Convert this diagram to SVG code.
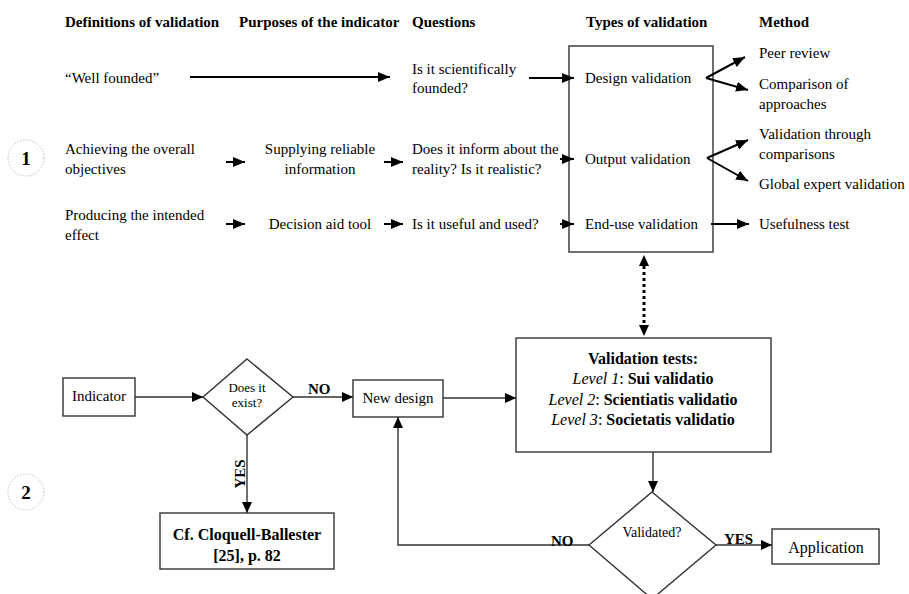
<svg xmlns="http://www.w3.org/2000/svg" width="909" height="594" viewBox="0 0 909 594">
<defs>
<marker id="ah" markerUnits="userSpaceOnUse" markerWidth="14" markerHeight="12" refX="12" refY="5" orient="auto">
<path d="M0,0 L12,5 L0,10 Z" fill="#000"/>
</marker>
<marker id="ah2" markerUnits="userSpaceOnUse" markerWidth="14" markerHeight="12" refX="11" refY="5" orient="auto">
<path d="M0,0 L11,5 L0,10 Z" fill="#000"/>
</marker>
<marker id="ahs" markerUnits="userSpaceOnUse" markerWidth="14" markerHeight="14" refX="0" refY="5" orient="auto-start-reverse">
<path d="M0,0 L11,5 L0,10 Z" fill="#000"/>
</marker>
</defs>
<style>
text{font-family:"Liberation Serif","Times New Roman",serif;fill:#000}
.h{font-size:15px;font-weight:bold}
.t{font-size:15px}
.c{text-anchor:middle}
.b{font-weight:bold}
.box{fill:#fff;stroke:#333;stroke-width:1.4}
.ar{stroke:#000;stroke-width:2;fill:none;marker-end:url(#ah)}
.fl{stroke:#333;stroke-width:1.4;fill:none}
.fa{stroke:#333;stroke-width:1.4;fill:none;marker-end:url(#ah2)}
.circ{fill:#fff;stroke:#bbb;stroke-width:1;stroke-dasharray:1.5 1.5}
</style>

<g id="headers">
<text class="h" x="65" y="27">Definitions of validation</text>
<text class="h" x="239" y="27">Purposes of the indicator</text>
<text class="h" x="412" y="27">Questions</text>
<text class="h" x="586" y="27">Types of validation</text>
<text class="h" x="759" y="27">Method</text>
</g>

<g id="types-box"><rect class="box" x="569" y="46" width="144" height="206" stroke="#555"/></g>

<g id="circle1"><circle class="circ" cx="26" cy="158" r="18"/><text x="26" y="165" class="c b" font-size="19">1</text></g>
<g id="circle2"><circle class="circ" cx="26" cy="492" r="18"/><text x="26" y="499" class="c b" font-size="19">2</text></g>

<g id="def1"><text class="t" x="65" y="83">“Well founded”</text></g>
<g id="q1"><text class="t" x="412" y="74">Is it scientifically</text><text class="t" x="412" y="93">founded?</text></g>
<g id="type1"><text class="t" x="585" y="83">Design validation</text></g>
<g id="m1a"><text class="t" x="759" y="58">Peer review</text></g>
<g id="m1b"><text class="t" x="759" y="89">Comparison of</text><text class="t" x="759" y="109">approaches</text></g>

<g id="def2"><text class="t" x="65" y="154">Achieving the overall</text><text class="t" x="65" y="174">objectives</text></g>
<g id="p2"><text class="t c" x="320" y="154">Supplying reliable</text><text class="t c" x="320" y="174">information</text></g>
<g id="q2"><text class="t" x="412" y="154">Does it inform about the</text><text class="t" x="412" y="174">reality? Is it realistic?</text></g>
<g id="type2"><text class="t" x="585" y="164">Output validation</text></g>
<g id="m2a"><text class="t" x="759" y="139">Validation through</text><text class="t" x="759" y="159">comparisons</text></g>
<g id="m2b"><text class="t" x="759" y="189">Global expert validation</text></g>

<g id="def3"><text class="t" x="65" y="220">Producing the intended</text><text class="t" x="65" y="240">effect</text></g>
<g id="p3"><text class="t c" x="320" y="229">Decision aid tool</text></g>
<g id="q3"><text class="t" x="412" y="229">Is it useful and used?</text></g>
<g id="type3"><text class="t" x="585" y="229">End-use validation</text></g>
<g id="m3"><text class="t" x="759" y="229">Usefulness test</text></g>

<g id="indicator"><rect class="box" x="63" y="378" width="72" height="38"/><text x="99" y="401" class="c" font-size="15">Indicator</text></g>
<g id="exist"><path class="box" d="M247,359 L293,397 L247,435 L203,397 Z"/><text x="247" y="392" class="c" font-size="13">Does it</text><text x="247" y="407" class="c" font-size="13">exist?</text></g>
<g id="newdesign"><rect class="box" x="353" y="380" width="90" height="37"/><text x="398" y="403" class="c" font-size="15">New design</text></g>
<g id="cf"><rect class="box" x="160" y="513" width="174" height="56"/><text x="247" y="540" class="c b" font-size="16">Cf. Cloquell-Ballester</text><text x="247" y="561" class="c b" font-size="16">[25], p. 82</text></g>
<g id="tests"><rect class="box" x="516" y="338" width="255" height="114"/>
<text x="643" y="364" class="c b" font-size="16">Validation tests:</text>
<text x="643" y="384" class="c" font-size="16"><tspan font-style="italic">Level 1</tspan>: <tspan font-weight="bold">Sui validatio</tspan></text>
<text x="643" y="405" class="c" font-size="16"><tspan font-style="italic">Level 2</tspan>: <tspan font-weight="bold">Scientiatis validatio</tspan></text>
<text x="643" y="425" class="c" font-size="16"><tspan font-style="italic">Level 3</tspan>: <tspan font-weight="bold">Societatis validatio</tspan></text>
</g>
<g id="validated"><path class="box" d="M652,492 L716,545 L652,599 L589,545 Z"/><text x="652" y="537" class="c" font-size="14">Validated?</text></g>
<g id="application"><rect class="box" x="772" y="529" width="107" height="35"/><text x="826" y="553" class="c" font-size="16">Application</text></g>

<g id="connectors">
<line class="ar" x1="190" y1="77" x2="390" y2="77"/>
<line class="ar" x1="529" y1="78" x2="574" y2="78"/>
<line class="ar" x1="226" y1="162" x2="245" y2="162"/>
<line class="ar" x1="384" y1="162" x2="403" y2="162"/>
<line class="ar" x1="560" y1="159" x2="574" y2="159"/>
<line class="ar" x1="226" y1="224" x2="245" y2="224"/>
<line class="ar" x1="384" y1="224" x2="403" y2="224"/>
<line class="ar" x1="560" y1="224" x2="574" y2="224"/>
<line class="ar" x1="711" y1="224" x2="749" y2="224"/>
<line class="ar" x1="706" y1="78" x2="745" y2="57"/>
<line class="ar" x1="706" y1="78" x2="748" y2="90"/>
<line class="ar" x1="707" y1="158" x2="748" y2="140"/>
<line class="ar" x1="707" y1="158" x2="748" y2="181"/>
<line x1="644" y1="266" x2="644" y2="325" stroke="#000" stroke-width="3" stroke-dasharray="3 3" marker-start="url(#ahs)" marker-end="url(#ahs)"/>
<line class="fa" x1="135" y1="397" x2="203" y2="397"/>
<line class="fa" x1="293" y1="397" x2="353" y2="397"/>
<line class="fa" x1="443" y1="398" x2="516" y2="398"/>
<line class="fa" x1="247" y1="435" x2="247" y2="513"/>
<line class="fa" x1="653" y1="452" x2="653" y2="492"/>
<polyline class="fa" points="589,545 398,545 398,417"/>
<line class="fa" x1="716" y1="545" x2="772" y2="545"/>
<text x="308" y="394" class="b" font-size="15">NO</text>
<text x="551" y="546" class="b" font-size="15">NO</text>
<text x="724" y="544" class="b" font-size="15">YES</text>
<text x="0" y="0" class="b c" font-size="15" transform="translate(245,474) rotate(-90)">YES</text>
</g>
</svg>
